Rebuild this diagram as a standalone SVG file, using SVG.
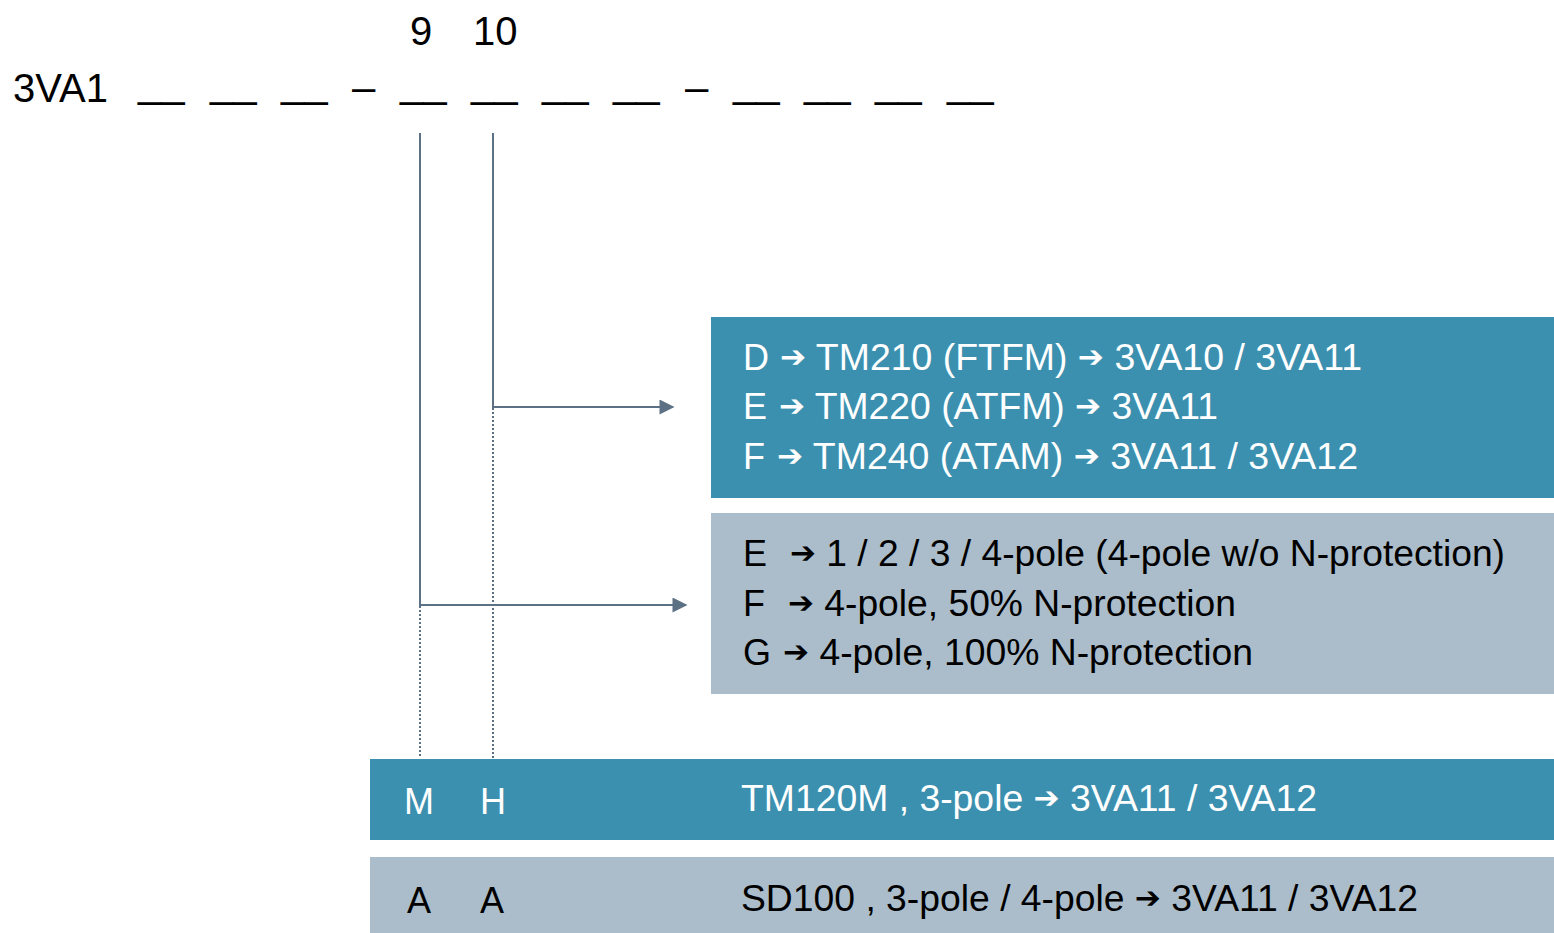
<svg xmlns="http://www.w3.org/2000/svg" width="1554" height="933" viewBox="0 0 1554 933">
<style>
text{font-family:"Liberation Sans",Arial,sans-serif}
.hd{font-size:40px;fill:#000}
.us{font-size:42px;fill:#000}
.w{font-size:36px;fill:#fff}
.k{font-size:36px;fill:#000}
.ar{font-family:"DejaVu Sans",sans-serif;font-size:30px}
.teal{fill:#3c90af}
.grey{fill:#abbdca}
.ln{stroke:#5d7185;stroke-width:2;fill:none}
.dot{stroke:#5d7185;stroke-width:2;fill:none;stroke-dasharray:2 2}
</style>
<defs>
<marker id="ah" viewBox="0 0 10 10" refX="9" refY="5" markerWidth="8" markerHeight="7.5" markerUnits="strokeWidth" orient="auto"><path d="M0,0 L10,5 L0,10 z" fill="#5d7185"/></marker>
</defs>
<g id="header">
<text class="hd" x="410" y="45">9</text>
<text class="hd" x="473" y="45">10</text>
<text class="hd" x="13" y="102">3VA1</text>
<text class="us" y="97"><tspan x="138">__</tspan><tspan x="210">__</tspan><tspan x="281">__</tspan><tspan x="400">__</tspan><tspan x="471">__</tspan><tspan x="542">__</tspan><tspan x="613">__</tspan><tspan x="733">__</tspan><tspan x="804">__</tspan><tspan x="875">__</tspan><tspan x="947">__</tspan></text>
<text class="us" y="101"><tspan x="352">–</tspan><tspan x="685">–</tspan></text>
</g>
<g id="connectors">
<path class="ln" d="M420,133 V605 H686" marker-end="url(#ah)"/>
<path class="ln" d="M493,133 V407 H673" marker-end="url(#ah)"/>
<path class="dot" d="M420,606 V758"/>
<path class="dot" d="M493,408 V758"/>
</g>
<g id="box-tm">
<rect class="teal" x="711" y="317" width="843" height="181"/>
<text class="w" x="743" y="370">D</text>
<text class="w" x="780" y="370" textLength="582" lengthAdjust="spacingAndGlyphs"><tspan class="ar" dy="-3">➔</tspan><tspan dy="3"> TM210 (FTFM) </tspan><tspan class="ar" dy="-3">➔</tspan><tspan dy="3"> 3VA10 / 3VA11</tspan></text>
<text class="w" x="743" y="419">E</text>
<text class="w" x="779" y="419" textLength="439" lengthAdjust="spacingAndGlyphs"><tspan class="ar" dy="-3">➔</tspan><tspan dy="3"> TM220 (ATFM) </tspan><tspan class="ar" dy="-3">➔</tspan><tspan dy="3"> 3VA11</tspan></text>
<text class="w" x="743" y="469">F</text>
<text class="w" x="777" y="469" textLength="581" lengthAdjust="spacingAndGlyphs"><tspan class="ar" dy="-3">➔</tspan><tspan dy="3"> TM240 (ATAM) </tspan><tspan class="ar" dy="-3">➔</tspan><tspan dy="3"> 3VA11 / 3VA12</tspan></text>
</g>
<g id="box-pole">
<rect class="grey" x="711" y="513" width="843" height="181"/>
<text class="k" x="743" y="566">E</text>
<text class="k" x="790" y="566" textLength="715" lengthAdjust="spacingAndGlyphs"><tspan class="ar" dy="-3">➔</tspan><tspan dy="3"> 1 / 2 / 3 / 4-pole (4-pole w/o N-protection)</tspan></text>
<text class="k" x="743" y="616">F</text>
<text class="k" x="788" y="616" textLength="448" lengthAdjust="spacingAndGlyphs"><tspan class="ar" dy="-3">➔</tspan><tspan dy="3"> 4-pole, 50% N-protection</tspan></text>
<text class="k" x="743" y="665">G</text>
<text class="k" x="783" y="665" textLength="470" lengthAdjust="spacingAndGlyphs"><tspan class="ar" dy="-3">➔</tspan><tspan dy="3"> 4-pole, 100% N-protection</tspan></text>
</g>
<g id="bar-mh">
<rect class="teal" x="370" y="759" width="1184" height="81"/>
<text class="w" x="404" y="814">M</text>
<text class="w" x="480" y="814">H</text>
<text class="w" x="741" y="811" textLength="576" lengthAdjust="spacingAndGlyphs">TM120M , 3-pole <tspan class="ar" dy="-3">➔</tspan><tspan dy="3"> 3VA11 / 3VA12</tspan></text>
</g>
<g id="bar-aa">
<rect class="grey" x="370" y="857" width="1184" height="76"/>
<text class="k" x="407" y="913">A</text>
<text class="k" x="480" y="913">A</text>
<text class="k" x="741" y="911" textLength="677" lengthAdjust="spacingAndGlyphs">SD100 , 3-pole / 4-pole <tspan class="ar" dy="-3">➔</tspan><tspan dy="3"> 3VA11 / 3VA12</tspan></text>
</g>
</svg>
